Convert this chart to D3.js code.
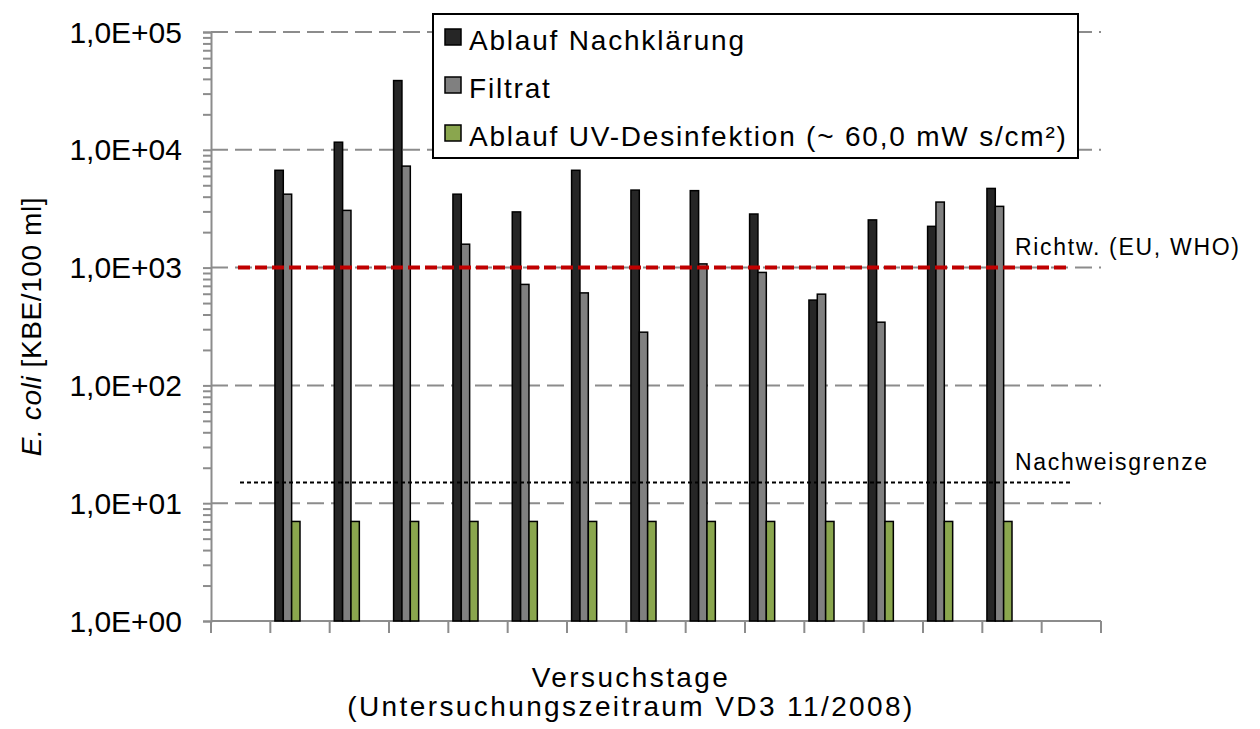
<!DOCTYPE html>
<html>
<head>
<meta charset="utf-8">
<title>E. coli VD3</title>
<script src="https://cdn.jsdelivr.net/npm/d3@7"></script>
<style>
  body { margin: 0; background: #fff; }
  text { font-family: "Liberation Sans", Arial, sans-serif; fill: #000; }
</style>
</head>
<body>
<div id="main"></div>
<script>
	// --- data ---
	var categories   = ["1","2","3","4","5","6","7","8","9","10","11","12","13","14","15"];
	var seriesNames  = ["Ablauf Nachklärung", "Filtrat", "Ablauf UV-Desinfektion (~ 60,0 mW s/cm²)"];
	var nachklaerung = [null, 6700, 11600, 38700, 4200, 2970, 6700, 4550, 4500, 2850, 530, 2540, 2240, 4700, null];
	var filtrat      = [null, 4200, 3060, 7270, 1580, 720, 610, 283, 1075, 910, 595, 344, 3600, 3310, null];
	var uvAblauf     = [null, 7, 7, 7, 7, 7, 7, 7, 7, 7, 7, 7, 7, 7, null];
	var seriesColours= ["#262626", "#808080", "#8aa64e"];
	var richtwert    = 1000;
	var nachweis     = 15;
	var yTickLabels  = ["1,0E+00","1,0E+01","1,0E+02","1,0E+03","1,0E+04","1,0E+05"];

	var screenWidth  = 1260;
	var screenHeight = 729;
	var margin = {left: 211, top: 32, right: 159, bottom: 108};
	var innerWidth  = screenWidth - margin.left - margin.right;
	var innerHeight = screenHeight - margin.top - margin.bottom;

	var svg = d3.select("#main").append("svg")
		.attr("width", screenWidth)
		.attr("height", screenHeight);

	var g = svg.append("g")
		.attr("transform", "translate(" + margin.left + "," + margin.top + ")");

	var x0 = d3.scaleBand().domain(categories).range([0, innerWidth]);
	// six slots per category, the last three stay empty (as in the original sheet)
	var x1 = d3.scaleBand().domain(d3.range(6)).range([0, x0.bandwidth()]).paddingOuter(0.55);
	var y  = d3.scaleLog().domain([1, 1e5]).range([innerHeight, 0]);

	var allTicks = y.ticks();
	var majors   = allTicks.filter(v => Math.abs(Math.log10(v) - Math.round(Math.log10(v))) < 1e-9);

	// grid lines
	g.selectAll(".grid").data(majors.filter(v => v > 1)).enter().append("line")
		.attr("x1", 0).attr("x2", innerWidth)
		.attr("y1", d => y(d)).attr("y2", d => y(d))
		.attr("stroke", "#8c8c8c").attr("stroke-width", 2)
		.attr("stroke-dasharray", "17,7");

	// y axis: minor ticks without labels, majors labelled
	var yg = g.append("g")
		.call(d3.axisLeft(y).tickValues(allTicks).tickSize(8).tickFormat(""));
	yg.select(".domain").attr("stroke", "#8c8c8c").attr("stroke-width", 2);
	yg.selectAll(".tick line").attr("stroke", "#8c8c8c").attr("stroke-width", 2);
	yg.selectAll(".tick text").remove();

	g.selectAll(".ylabel").data(majors).enter().append("text")
		.attr("x", -29).attr("y", d => y(d)).attr("dy", "0.35em")
		.attr("text-anchor", "end")
		.attr("font-size", 30)
		.text(d => yTickLabels[Math.round(Math.log10(d))]);

	// x axis (ticks on category boundaries, no labels)
	var xBounds = categories.map(c => x0(c)).concat([x0.range()[1]]);
	g.append("line").attr("x1", 0).attr("x2", innerWidth)
		.attr("y1", innerHeight).attr("y2", innerHeight)
		.attr("stroke", "#8c8c8c").attr("stroke-width", 2);
	g.selectAll(".xtick").data(xBounds).enter().append("line")
		.attr("x1", d => d).attr("x2", d => d)
		.attr("y1", innerHeight).attr("y2", innerHeight + 12)
		.attr("stroke", "#8c8c8c").attr("stroke-width", 2);

	// bars
	var seriesData = [nachklaerung, filtrat, uvAblauf];
	seriesData.forEach(function(values, s) {
		var rows = categories.map((c, i) => ({cat: c, v: values[i]})).filter(d => d.v != null);
		g.selectAll(".bar" + s).data(rows).enter().append("rect")
			.attr("x", d => x0(d.cat) + x1(s))
			.attr("width", x1.bandwidth())
			.attr("y", d => y(d.v))
			.attr("height", d => y(1) - y(d.v))
			.attr("fill", seriesColours[s])
			.attr("stroke", "#000").attr("stroke-width", 1.5);
	});

	// reference lines
	g.append("line")
		.attr("x1", 27).attr("x2", 856)
		.attr("y1", y(richtwert)).attr("y2", y(richtwert))
		.attr("stroke", "#c00000").attr("stroke-width", 4)
		.attr("stroke-dasharray", "12,5");
	g.append("line")
		.attr("x1", 29).attr("x2", 859)
		.attr("y1", y(nachweis)).attr("y2", y(nachweis))
		.attr("stroke", "#000").attr("stroke-width", 2)
		.attr("stroke-dasharray", "4,3");

	g.append("text").attr("x", 804).attr("y", y(richtwert) - 13)
		.attr("font-size", 23).attr("letter-spacing", "1.7px")
		.text("Richtw. (EU, WHO)");
	g.append("text").attr("x", 804).attr("y", y(nachweis) - 12)
		.attr("font-size", 23).attr("letter-spacing", "1.7px")
		.text("Nachweisgrenze");

	// legend
	var legend = svg.append("g").attr("transform", "translate(433,14)");
	legend.append("rect").attr("width", 645).attr("height", 144)
		.attr("fill", "#fff").attr("stroke", "#000").attr("stroke-width", 2);
	seriesNames.forEach(function(name, i) {
		var row = legend.append("g").attr("transform", "translate(12," + (15 + i * 48) + ")");
		row.append("rect").attr("width", 16).attr("height", 16)
			.attr("fill", seriesColours[i]).attr("stroke", "#000").attr("stroke-width", 1.5);
		row.append("text").attr("x", 24).attr("y", 21)
			.attr("font-size", 28).attr("letter-spacing", "1.8px")
			.text(name);
	});

	// axis titles
	var yTitle = svg.append("text")
		.attr("transform", "translate(41," + (margin.top + innerHeight / 2) + ") rotate(-90)")
		.attr("text-anchor", "middle")
		.attr("font-size", 28).attr("letter-spacing", "0.6px");
	yTitle.append("tspan").style("font-style", "italic").text("E. coli");
	yTitle.append("tspan").text(" [KBE/100 ml]");

	var xTitle = svg.append("text").attr("text-anchor", "middle")
		.attr("font-size", 28).attr("letter-spacing", "2.4px");
	xTitle.append("tspan").attr("x", 631).attr("y", 687).text("Versuchstage");
	xTitle.append("tspan").attr("x", 631).attr("y", 716).text("(Untersuchungszeitraum  VD3 11/2008)");
</script>
</body>
</html>
